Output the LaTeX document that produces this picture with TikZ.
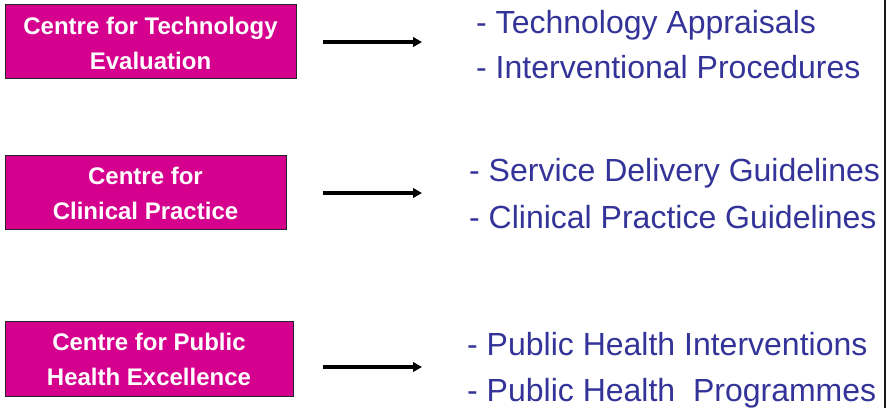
\documentclass[tikz,border=0pt]{standalone}
\usepackage{fontspec}
\setmainfont{Liberation Sans}
\usetikzlibrary{arrows.meta}
\definecolor{niceMagenta}{RGB}{213,0,141}
\definecolor{niceBlue}{RGB}{51,51,153}
\tikzset{
  centrebox/.style={draw=black!85, line width=0.9pt, fill=niceMagenta, inner sep=0pt,
    minimum height=74pt},
  boxtext/.style={text=white, font=\fontsize{24}{35}\selectfont\bfseries, align=center, inner sep=0pt},
  itemtext/.style={anchor=base west, text=niceBlue, font=\fontsize{32}{38}\selectfont, inner sep=0pt},
  flowarrow/.style={line width=3.2pt, -{Triangle[length=9pt,width=9.5pt]}},
}
\begin{document}
\begin{tikzpicture}[x=1pt,y=-1pt]
\useasboundingbox (0,0) rectangle (888,408);
% boxes
\node[centrebox, minimum width=291pt] (cte) at (150.5,41) {};
\node[centrebox, minimum width=281pt] (ccp) at (145.5,192) {};
\node[centrebox, minimum width=288pt, minimum height=75pt] (cph) at (149,358.5) {};
\node[boxtext] (cteT) at ([yshift=-2pt]cte.center) {Centre for Technology\\Evaluation};
\node[boxtext] (ccpT) at ([yshift=-1pt]ccp.center) {Centre for\\Clinical Practice};
\node[boxtext] (cphT) at ([yshift=-1pt]cph.center) {Centre for Public\\Health Excellence};
% item texts
\node[itemtext] (ta) at (476,33) {- Technology Appraisals};
\node[itemtext] (ip) at (476,78) {- Interventional Procedures};
\node[itemtext] (sd) at (469,181) {- Service Delivery Guidelines};
\node[itemtext] (cp) at (469,228) {- Clinical Practice Guidelines};
\node[itemtext] (phi) at (467,355) {- Public Health Interventions};
\node[itemtext] (php) at (467,401) {- Public Health\ \ Programmes};
% arrows
\coordinate (a1s) at (323,42); \coordinate (a1e) at (422,42);
\coordinate (a2s) at (323,193); \coordinate (a2e) at (422,193);
\coordinate (a3s) at (323,367); \coordinate (a3e) at (422,367);
\draw[flowarrow] (a1s) -- (a1e);
\draw[flowarrow] (a2s) -- (a2e);
\draw[flowarrow] (a3s) -- (a3e);
% right edge line
\coordinate (rt) at (885,0); \coordinate (rb) at (885,408);
\draw[line width=2pt, black!90] (rt) -- (rb);
\end{tikzpicture}
\end{document}
